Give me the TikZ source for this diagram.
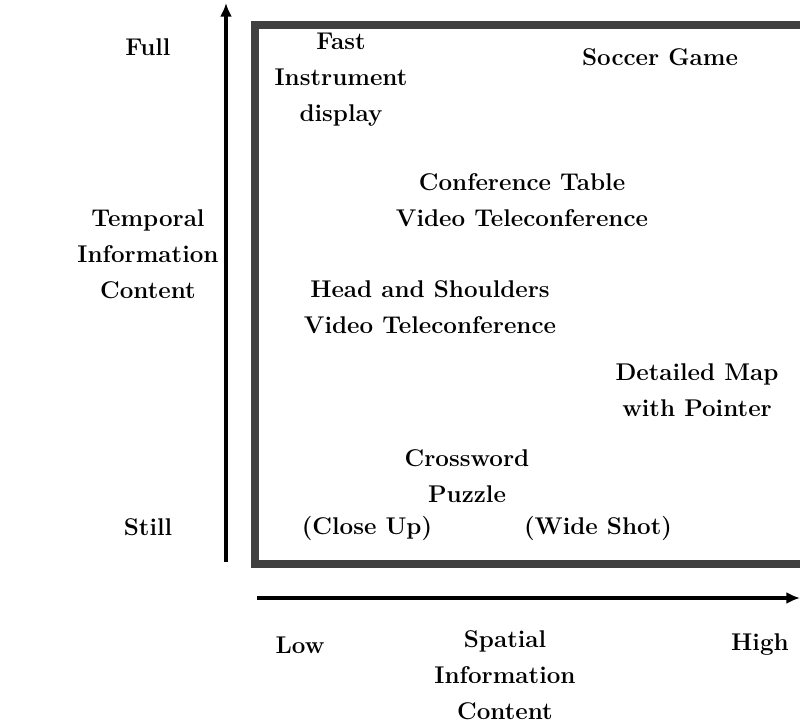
\documentclass[tikz,border=0pt]{standalone}
\usepackage{tikz}
\usetikzlibrary{arrows.meta,positioning}

\begin{document}
\begin{tikzpicture}[x=1cm,y=1cm,>={Latex[length=0.34cm,width=0.3cm]},
  lbl/.style={align=center,font=\fontsize{17.2}{25.6}\selectfont\bfseries,inner sep=0pt},
  axis/.style={->,line width=2.2pt}
]
  \useasboundingbox (0,0) rectangle (20,18.125);

  % frame of the chart
  \draw[black!75,line width=0.2cm] (20.4,17.5) -- (6.375,17.5) -- (6.375,4.025) -- (20.4,4.025);

  % axes
  \coordinate (ybot) at (5.65,4.075);
  \coordinate (ytop) at (5.65,18.05);
  \coordinate (xleft) at (6.425,3.175);
  \coordinate (xright) at (20,3.175);
  \draw[axis] (ybot) -- (ytop);
  \draw[axis] (xleft) -- (xright);

  % axis labels
  \node[lbl] (full) at (3.7,16.95) {Full};
  \node[lbl] (still) at (3.7,4.95) {Still};
  \node[lbl] (temporal) at (3.7,11.775) {Temporal\\Information\\Content};
  \node[lbl] (low) at (7.5,2.0) {Low};
  \node[lbl] (high) at (19.0,2.0) {High};
  \node[lbl] (spatial) at (12.625,1.25) {Spatial\\Information\\Content};

  % applications
  \node[lbl] (instrument) at (8.525,16.125) {Fast\\Instrument\\display};
  \node[lbl] (soccer) at (16.5,16.7) {Soccer Game};
  \node[lbl] (conftable) at (13.05,13.125) {Conference Table\\Video Teleconference};
  \node[lbl] (headsh) at (10.75,10.45) {Head and Shoulders\\Video Teleconference};
  \node[lbl] (detmap) at (17.425,8.375) {Detailed Map\\with Pointer};
  \node[lbl] (crossword) at (11.675,6.225) {Crossword\\Puzzle};
  \node[lbl] (closeup) at (9.175,4.925) {(Close Up)};
  \node[lbl] (wideshot) at (14.95,4.925) {(Wide Shot)};
\end{tikzpicture}
\end{document}
